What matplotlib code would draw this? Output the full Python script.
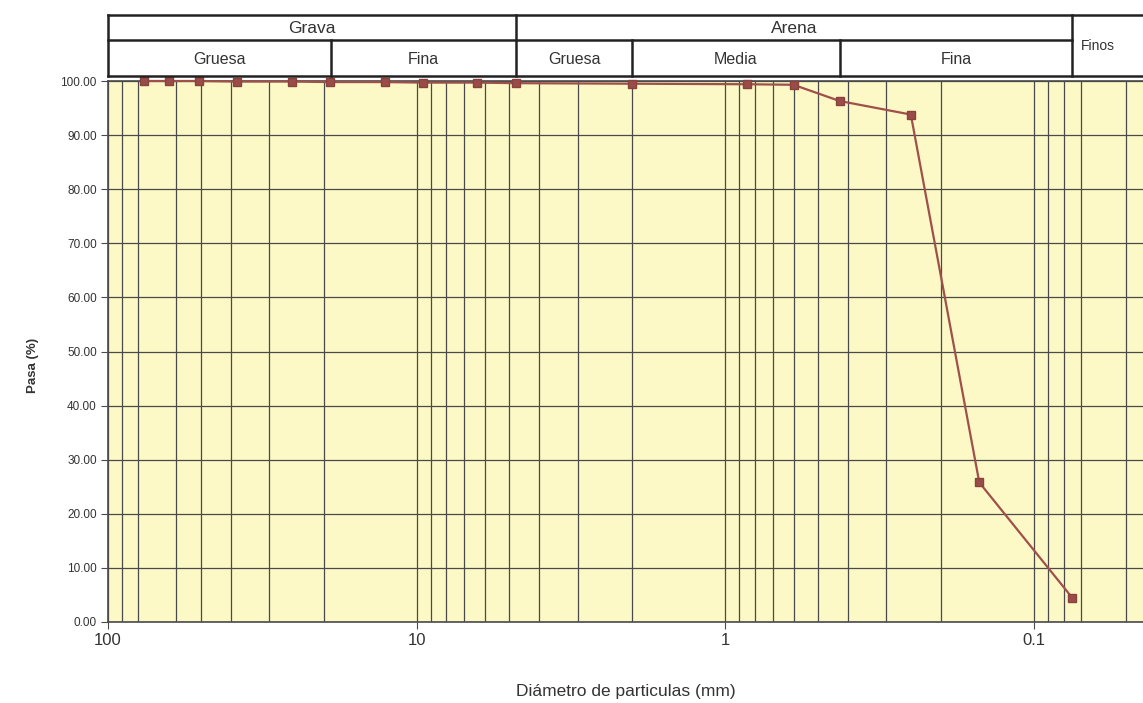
import numpy as np
import matplotlib
matplotlib.use("Agg")
import matplotlib.pyplot as plt
from matplotlib.ticker import FixedLocator, NullFormatter

plt.rcParams["font.family"] = ["Liberation Sans", "DejaVu Sans"]

# sieve openings (mm) and percent passing
diam = [76.2, 63.5, 50.8, 38.1, 25.4, 19.05, 12.7, 9.525, 6.35, 4.76,
        2.00, 0.85, 0.60, 0.425, 0.25, 0.15, 0.075]
pasa = [100.0, 100.0, 100.0, 99.9, 99.9, 99.8, 99.8, 99.7, 99.7, 99.6,
        99.5, 99.4, 99.3, 96.3, 93.8, 25.8, 4.5]

# vertical grid lines as they appear on the sheet
grid_x = [100, 90, 80, 60, 50, 40, 30, 20,
          10, 9, 8, 7, 6, 5, 4, 3, 2,
          1, 0.9, 0.8, 0.7, 0.6, 0.5, 0.4, 0.3, 0.2,
          0.1, 0.09, 0.08, 0.07, 0.05]
xticks = [100, 10, 1, 0.1]
xticklabels = ["100", "10", "1", "0.1"]
yticks = list(range(0, 101, 10))

# classification header: (label, d_max, d_min)
top_row = [("Grava", 100, 4.75), ("Arena", 4.75, 0.075)]
low_row = [("Gruesa", 100, 19.0), ("Fina", 19.0, 4.75),
           ("Gruesa", 4.75, 2.0), ("Media", 2.0, 0.425), ("Fina", 0.425, 0.075)]

XLIM = (100, 0.0442)
W, H = 1143, 703
fig = plt.figure(figsize=(W / 100, H / 100), dpi=100)
ax = fig.add_axes([108 / W, 1 - 622 / H, 1 - 108 / W, (622 - 81) / H])
ax.set_facecolor("#fcf9c6")
ax.set_xscale("log")
ax.set_xlim(*XLIM)
ax.set_ylim(0, 100)

gridc = "#4a4a4a"
ax.xaxis.set_major_locator(FixedLocator(xticks))
ax.set_xticklabels(xticklabels, fontsize=12, color="#333333")
ax.xaxis.set_minor_locator(FixedLocator(grid_x))
ax.xaxis.set_minor_formatter(NullFormatter())
ax.tick_params(axis="x", which="minor", length=0)
ax.tick_params(axis="x", which="major", length=5, color=gridc, pad=3)
ax.set_yticks(yticks)
ax.set_yticklabels([f"{v:.2f}" for v in yticks], fontsize=8.5, color="#333333")
ax.tick_params(axis="y", length=5, color=gridc, pad=3)
ax.grid(True, which="both", axis="x", color=gridc, lw=0.9)
ax.grid(True, which="major", axis="y", color=gridc, lw=0.9)
for s in ["left", "bottom", "top"]:
    ax.spines[s].set_color(gridc)
    ax.spines[s].set_linewidth(1.2)
ax.spines["right"].set_visible(False)

ax.plot(diam, pasa, color="#a0504a", lw=1.6, marker="s", ms=6,
        mfc="#9a4d48", mec="#8a423e", zorder=5, clip_on=False)

ax.set_xlabel("Diámetro de particulas (mm)", fontsize=12.5, color="#333333",
              labelpad=26)
fig.text(33 / W, 1 - 365 / H, "Pasa (%)", rotation=90, fontsize=9.5,
         fontweight="bold", color="#333333", ha="center", va="center")

# header table above the plot
hx = fig.add_axes([108 / W, 1 - 76 / H, 1 - 108 / W, (76 - 15) / H])
hx.set_xscale("log")
hx.set_xlim(*XLIM)
hx.set_ylim(0, 1)
hx.axis("off")
kw = dict(color="#222222", lw=1.8, clip_on=False)
mid = (76 - 40) / (76 - 15)
hx.plot([100, XLIM[1]], [1, 1], **kw)
hx.plot([100, XLIM[1]], [0, 0], **kw)
hx.plot([100, 0.075], [mid, mid], **kw)
for d in [100, 4.75, 0.075]:
    hx.plot([d, d], [0, 1], **kw)
for d in [19.0, 2.0, 0.425]:
    hx.plot([d, d], [0, mid], **kw)
for lab, a, b in top_row:
    hx.text(np.sqrt(a * b), (1 + mid) / 2 - 0.02, lab, fontsize=12.5,
            ha="center", va="center", color="#333333")
for lab, a, b in low_row:
    hx.text(np.sqrt(a * b), mid / 2 - 0.02, lab, fontsize=11.5,
            ha="center", va="center", color="#333333")
hx.text(0.0705, 0.5, "Finos", fontsize=10, ha="left", va="center",
        color="#333333")

fig.savefig("out.png", dpi=100, facecolor="white")
